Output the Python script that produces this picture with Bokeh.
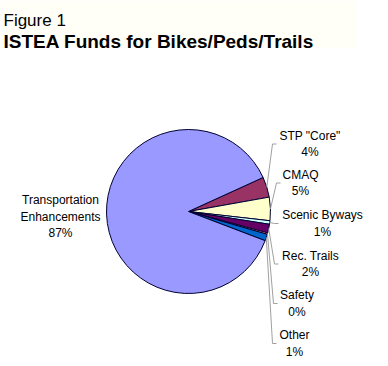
import math
from bokeh.plotting import figure
from bokeh.models import Range1d, ColumnDataSource
from bokeh.core.properties import value
from bokeh.embed import file_html
from bokeh.resources import INLINE

# ---- data ----
categories = ["STP \"Core\"", "CMAQ", "Scenic Byways", "Rec. Trails",
              "Safety", "Other", "Transportation Enhancements"]
shares = [4.0, 4.6, 0.7, 1.7, 0.3, 1.3, 87.4]
colors = ["#993366", "#FFFFCC", "#CCFFFF", "#660066",
          "#FF8080", "#0066CC", "#9999FF"]
label_lines = [["STP \"Core\""], ["CMAQ"], ["Scenic Byways"], ["Rec. Trails"],
               ["Safety"], ["Other"], ["Transportation", "Enhancements"]]

# ---- layout (picture pixel coordinates) ----
W, H = 380, 358
CX, CY, R = 188, 211, 82
START_DEG = 24.5
# label block centre (x, y) and leader end x (None = no leader)
label_layout = [(309.5, 143.5, 276), (300, 182.5, 280), (322, 223, 278),
                (310, 263.5, 278), (296.5, 303, 277), (294, 343, 276),
                (60, 216, None)]
LINE_GAP = 16.5
FONT = value("Liberation Sans")

p = figure(width=W, height=H, x_range=Range1d(0, W),
           y_range=Range1d(-H, 0), x_axis_type=None, y_axis_type=None,
           toolbar_location=None, output_backend="svg", min_border=0,
           outline_line_color=None, background_fill_color="white",
           border_fill_color="white")
p.grid.visible = False

# faint title backdrop
p.quad(left=[0], right=[355], top=[0], bottom=[-47], fill_color="#FFFEF7",
       line_color=None)

# ---- pie ----
starts, ends = [], []
cum = math.radians(START_DEG)
for s in shares:
    a = s / 100.0 * 2 * math.pi
    starts.append(cum)
    ends.append(cum - a)
    cum -= a

src = ColumnDataSource(dict(start=starts, end=ends, color=colors, cat=categories))
p.wedge(x=CX, y=-CY, radius=R, start_angle="start", end_angle="end",
        direction="clock", fill_color="color", line_color="#000033",
        line_width=1, source=src)

# ---- leader lines ----
lxs, lys = [], []
for st, en, (bx, by, lx) in zip(starts, ends, label_layout):
    if lx is None:
        continue
    mid = (st + en) / 2
    ex = CX + R * math.cos(mid)
    ey = -CY + R * math.sin(mid)
    lxs.append([ex, lx - 4, lx])
    lys.append([ey, -by, -by])
p.multi_line(xs=lxs, ys=lys, line_color="#A0A0A0", line_width=1)

# ---- labels ----
tx, ty, tt = [], [], []
for lines, s, (bx, by, lx) in zip(label_lines, shares, label_layout):
    all_lines = lines + [f"{round(s)}%"]
    n = len(all_lines)
    for i, t in enumerate(all_lines):
        tx.append(bx)
        ty.append(-(by + (i - (n - 1) / 2) * LINE_GAP))
        tt.append(t)
p.text(x=tx, y=ty, text=tt, text_align="center", text_baseline="middle",
       text_font=FONT, text_font_size="12px", text_color="black")

# ---- titles ----
p.text(x=[3], y=[-19.5], text=["Figure 1"], text_align="left",
       text_baseline="alphabetic", text_font=FONT, text_font_size="17px",
       text_color="black")
p.text(x=[3], y=[-40.5], text=["ISTEA Funds for Bikes/Peds/Trails"],
       text_align="left", text_baseline="alphabetic", text_font=FONT,
       text_font_size="19px", text_font_style="bold", text_color="black")

open("out.html", "w").write(file_html(p, INLINE))
